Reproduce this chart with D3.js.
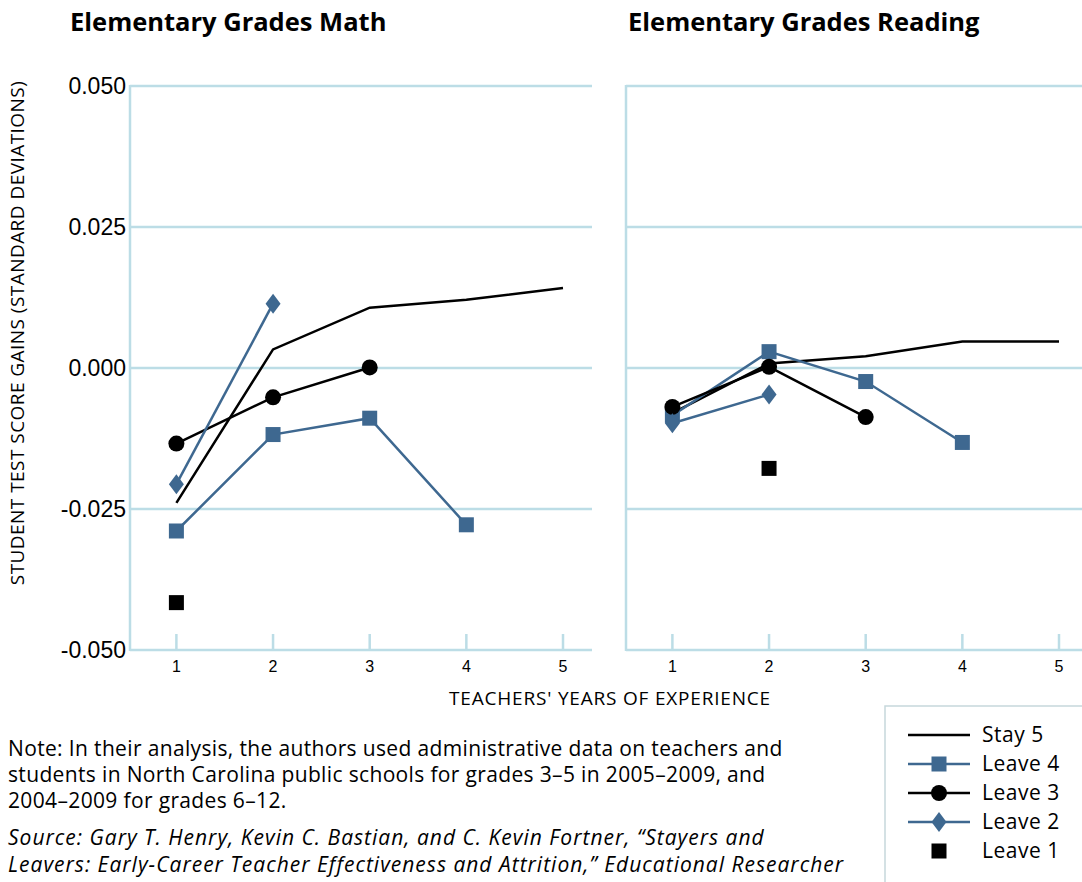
<!DOCTYPE html>
<html>
<head>
<meta charset="utf-8">
<script src="https://cdn.jsdelivr.net/npm/d3@7"></script>
<style>
  body { margin: 0; background: #fff; }
  svg { display: block; }
  .cond { font-family: "Open Sans", Roboto, sans-serif; }
</style>
</head>
<body>
<svg width="1082" height="882"></svg>
<script>
// years of experience on the x axis
var years = [1, 2, 3, 4, 5];
var yTicks = [-0.050, -0.025, 0.000, 0.025, 0.050];

// Elementary math
var mathStay5 = [-0.0239, 0.0033, 0.0107, 0.0121, 0.0142];
var mathLeave4 = [-0.0289, -0.0118, -0.0089, -0.0278];
var mathLeave3 = [-0.0134, -0.0052, 0.0001];
var mathLeave2 = [-0.0206, 0.0114];
var mathLeave1 = [-0.0416];

// Elementary reading
var readStay5 = [-0.0080, 0.0008, 0.0021, 0.0047, 0.0047];
var readLeave4 = [-0.0084, 0.0029, -0.0024, -0.0132];
var readLeave3 = [-0.0069, 0.0002, -0.0087];
var readLeave2 = [-0.0098, -0.0047];
var readLeave1 = [null, -0.0178];

var seriesNames = ["Stay 5", "Leave 4", "Leave 3", "Leave 2", "Leave 1"];

var blue = "#3e6890";
var grid = "#bcdde6";

var styleMap = {
    'Stay 5': { color: '#000', line: true, marker: null },
    'Leave 4': { color: blue, line: true, marker: 'square' },
    'Leave 3': { color: '#000', line: true, marker: 'circle' },
    'Leave 2': { color: blue, line: true, marker: 'diamond' },
    'Leave 1': { color: '#000', line: false, marker: 'square' }
};

var panels = [
    { title: "Elementary Grades Math", left: 130, titleX: 70, labels: true,
      data: [mathStay5, mathLeave4, mathLeave3, mathLeave2, mathLeave1] },
    { title: "Elementary Grades Reading", left: 626, titleX: 628, labels: false,
      data: [readStay5, readLeave4, readLeave3, readLeave2, readLeave1] }
];

var svg = d3.select("svg");
var plotTop = 86, plotBottom = 650;

var y = d3.scaleLinear().domain([-0.05, 0.05]).range([plotBottom, plotTop]);

function drawMarker(g, type, cx, cy, color) {
    if (type == 'square') {
        g.append('rect').attr('x', cx - 7.5).attr('y', cy - 7.5)
            .attr('width', 15).attr('height', 15).attr('fill', color);
    } else if (type == 'circle') {
        g.append('circle').attr('cx', cx).attr('cy', cy).attr('r', 8).attr('fill', color);
    } else if (type == 'diamond') {
        g.append('path')
            .attr('d', 'M' + cx + ',' + (cy - 10) + 'L' + (cx + 7.5) + ',' + cy +
                'L' + cx + ',' + (cy + 10) + 'L' + (cx - 7.5) + ',' + cy + 'Z')
            .attr('fill', color);
    }
}

panels.forEach(function(p) {
    var x = d3.scaleLinear().domain([0.52, 5.3]).range([p.left, p.left + 462]);
    var g = svg.append('g');

    svg.append('text')
        .attr('x', p.titleX)
        .attr('y', 31)
        .attr('class', 'cond')
        .style('font-size', '25.5px')
        .style('font-weight', 'bold')
        .text(p.title);

    // gridlines
    g.selectAll('.grid').data(yTicks).enter().append('line')
        .attr('x1', p.left).attr('x2', Math.min(p.left + 462, 1082))
        .attr('y1', d => y(d)).attr('y2', d => y(d))
        .attr('stroke', grid).attr('stroke-width', 2.5);

    // left axis
    g.append('line').attr('x1', p.left).attr('x2', p.left)
        .attr('y1', plotTop - 1).attr('y2', plotBottom + 1)
        .attr('stroke', grid).attr('stroke-width', 2.5);

    // x ticks pointing inward
    g.selectAll('.tick').data(years).enter().append('line')
        .attr('x1', d => x(d)).attr('x2', d => x(d))
        .attr('y1', plotBottom - 16).attr('y2', plotBottom)
        .attr('stroke', grid).attr('stroke-width', 2.5);

    g.selectAll('.xl').data(years).enter().append('text')
        .attr('x', d => x(d)).attr('y', plotBottom + 22)
        .attr('text-anchor', 'middle')
        .style('font-family', '"Liberation Sans", Arial, sans-serif')
        .style('font-size', '16px')
        .text(d => d);

    if (p.labels) {
        g.selectAll('.yl').data(yTicks).enter().append('text')
            .attr('x', p.left - 4).attr('y', d => y(d) + 8)
            .attr('text-anchor', 'end')
            .style('font-family', '"Liberation Sans", Arial, sans-serif')
            .style('font-size', '23px')
            .text(d => d3.format('.3f')(d).replace('\u2212', '-'));
    }

    p.data.forEach(function(vals, i) {
        var st = styleMap[seriesNames[i]];
        var pts = vals.map((v, j) => ({ x: years[j], v: v })).filter(d => d.v != null);
        if (st.line) {
            g.append('path')
                .datum(pts)
                .attr('fill', 'none')
                .attr('stroke', st.color)
                .attr('stroke-width', 2.5)
                .attr('d', d3.line().x(d => x(d.x)).y(d => y(d.v)));
        }
        if (st.marker) {
            pts.forEach(function(d) {
                drawMarker(g, st.marker, x(d.x), y(d.v), st.color);
            });
        }
    });
});

// axis titles
svg.append('text')
    .attr('class', 'cond')
    .attr('transform', 'translate(24,333) rotate(-90)')
    .attr('text-anchor', 'middle')
    .style('font-size', '19px')
    .style('letter-spacing', '0.45px')
    .text('STUDENT TEST SCORE GAINS (STANDARD DEVIATIONS)');

svg.append('text')
    .attr('class', 'cond')
    .attr('x', 610).attr('y', 705)
    .attr('text-anchor', 'middle')
    .style('font-size', '19px')
    .style('letter-spacing', '0.8px')
    .text("TEACHERS' YEARS OF EXPERIENCE");

// note + source
var noteLines = [
    "Note: In their analysis, the authors used administrative data on teachers and",
    "students in North Carolina public schools for grades 3\u20135 in 2005\u20132009, and",
    "2004\u20132009 for grades 6\u201312."
];
var sourceLines = [
    "Source: Gary T. Henry, Kevin C. Bastian, and C. Kevin Fortner, \u201cStayers and",
    "Leavers: Early-Career Teacher Effectiveness and Attrition,\u201d Educational Researcher"
];
svg.selectAll('.note').data(noteLines).enter().append('text')
    .attr('class', 'cond')
    .attr('x', 8).attr('y', (d, i) => 756 + i * 26)
    .style('font-size', '21px')
    .style('letter-spacing', '0.35px')
    .text(d => d);
svg.selectAll('.src').data(sourceLines).enter().append('text')
    .attr('class', 'cond')
    .attr('x', 8).attr('y', (d, i) => 845 + i * 27)
    .style('font-size', '21px')
    .style('letter-spacing', '1px')
    .style('font-style', 'italic')
    .text(d => d);

// legend
var lg = svg.append('g');
lg.append('rect').attr('x', 885).attr('y', 706).attr('width', 200).attr('height', 180)
    .attr('fill', 'none').attr('stroke', '#c6d8dc').attr('stroke-width', 1.5);
seriesNames.forEach(function(name, i) {
    var st = styleMap[name];
    var cy = 735 + i * 29;
    if (st.line) {
        lg.append('line').attr('x1', 908).attr('x2', 970).attr('y1', cy).attr('y2', cy)
            .attr('stroke', st.color).attr('stroke-width', 2.5);
    }
    if (st.marker) drawMarker(lg, st.marker, 939, cy, st.color);
    lg.append('text').attr('class', 'cond')
        .attr('x', 982).attr('y', cy + 7)
        .style('font-size', '21px')
        .style('letter-spacing', '0.5px')
        .text(name);
});
</script>
</body>
</html>
